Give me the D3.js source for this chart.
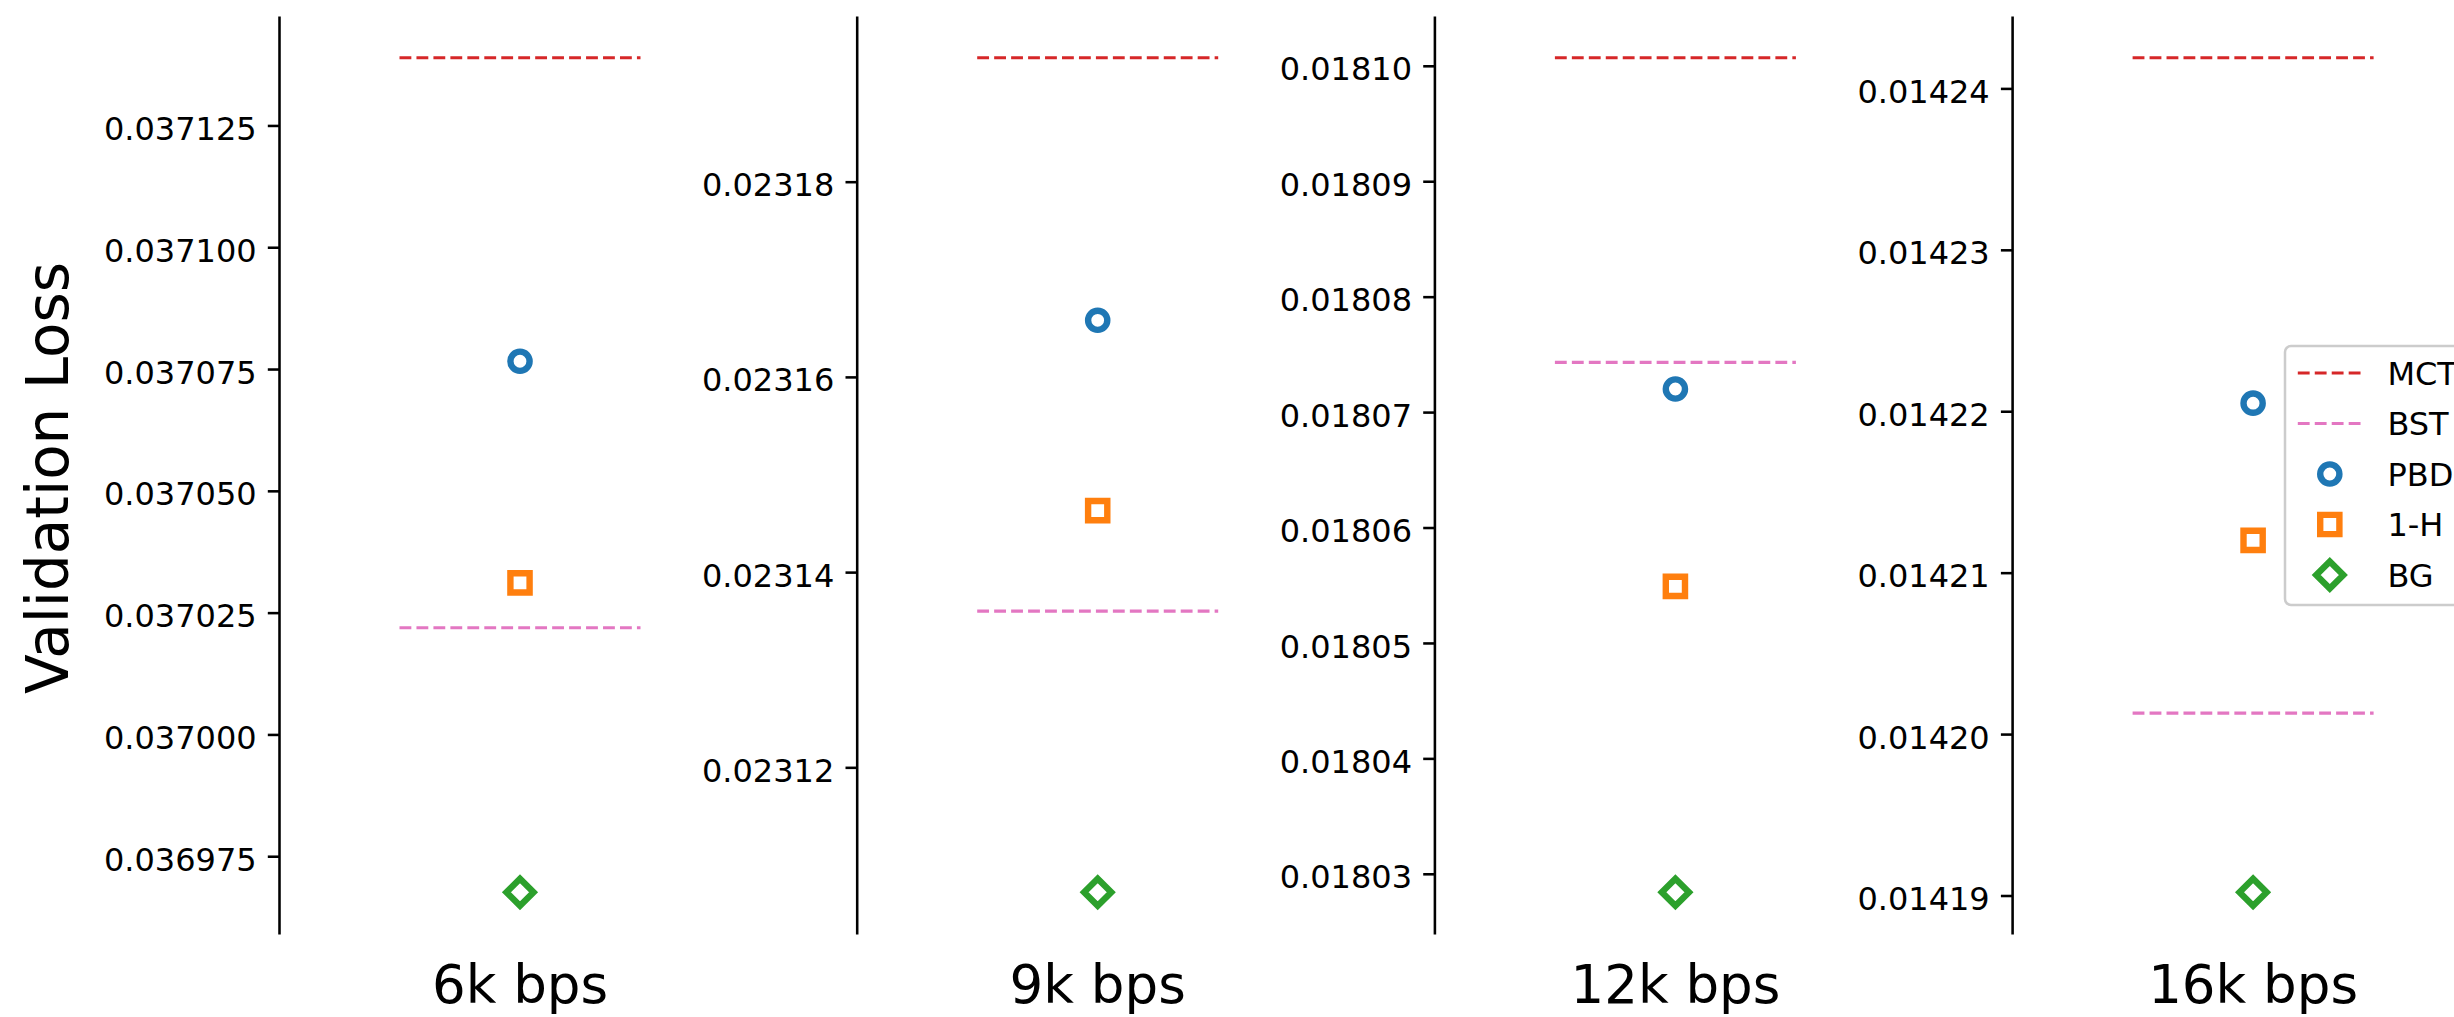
<!DOCTYPE html>
<html>
<head>
<meta charset="utf-8">
<script src="https://cdn.jsdelivr.net/npm/d3@7"></script>
<style>
  html, body { margin: 0; padding: 0; background: #fff; }
  svg { display: block; }
  text { font-family: "DejaVu Sans", sans-serif; fill: #000; }
</style>
</head>
<body>
<script>
// Bit-rate settings, one panel each
const categories = ["6k bps", "9k bps", "12k bps", "16k bps"];

// Validation loss per method and bit rate
const mctLoss    = [0.0371389, 0.0231927, 0.0181007, 0.0142419];
const bstLoss    = [0.0370219, 0.0231360, 0.0180743, 0.0142013];
const pbdLoss    = [0.0370766, 0.0231658, 0.0180720, 0.0142205];
const oneHotLoss = [0.0370311, 0.0231463, 0.0180549, 0.0142120];
const bgLoss     = [0.0369676, 0.0231072, 0.0180284, 0.0141902];

// Y tick values and label formats per panel
const ticks6k  = [0.036975, 0.037000, 0.037025, 0.037050, 0.037075, 0.037100, 0.037125];
const ticks9k  = [0.02312, 0.02314, 0.02316, 0.02318];
const ticks12k = [0.01803, 0.01804, 0.01805, 0.01806, 0.01807, 0.01808, 0.01809, 0.01810];
const ticks16k = [0.01419, 0.01420, 0.01421, 0.01422, 0.01423, 0.01424];
const tickSets = [ticks6k, ticks9k, ticks12k, ticks16k];
const tickFormats = [".6f", ".5f", ".5f", ".5f"];

const lineSeries = [
  { name: "MCT", values: mctLoss, color: "#d62728" },
  { name: "BST", values: bstLoss, color: "#e377c2" }
];
const pointSeries = [
  { name: "PBD", values: pbdLoss,    color: "#1f77b4", shape: "circle" },
  { name: "1-H", values: oneHotLoss, color: "#ff7f0e", shape: "square" },
  { name: "BG",  values: bgLoss,     color: "#2ca02c", shape: "diamond" }
];

// Layout (px)
const W = 2454, H = 1017;
const pt = 3.2;                 // pixels per point
const axTop = 16, axBottom = 934;
const axLeft0 = 279, axStep = 577.7, axWidth = 482;
const markerSize = 6 * pt, markerEdge = 2 * pt;

const svg = d3.select("body").append("svg")
  .attr("width", W).attr("height", H)
  .attr("viewBox", `0 0 ${W} ${H}`);

svg.append("rect").attr("width", W).attr("height", H).attr("fill", "#fff");

function markerPath(shape) {
  const p = d3.path();
  const s = markerSize / 2;
  if (shape === "circle") {
    p.arc(0, 0, s, 0, 2 * Math.PI);
  } else if (shape === "square") {
    p.rect(-s, -s, 2 * s, 2 * s);
  } else {
    // square rotated by 45 degrees
    const d = s * Math.SQRT2;
    p.moveTo(0, -d); p.lineTo(d, 0); p.lineTo(0, d); p.lineTo(-d, 0); p.closePath();
  }
  return p.toString();
}

categories.forEach((cat, i) => {
  const left = axLeft0 + i * axStep;
  const g = svg.append("g");

  // y domain from the data with 5% margins
  const all = [...lineSeries, ...pointSeries].map(s => s.values[i]);
  const lo = d3.min(all), hi = d3.max(all);
  const pad = (hi - lo) * 0.05;
  const y = d3.scaleLinear().domain([lo - pad, hi + pad]).range([axBottom, axTop]);
  const x = d3.scaleLinear().domain([-1, 1]).range([left, left + axWidth]);

  // reference levels as dashed horizontal segments
  lineSeries.forEach(s => {
    g.append("line")
      .attr("x1", x(-0.5)).attr("x2", x(0.5))
      .attr("y1", y(s.values[i])).attr("y2", y(s.values[i]))
      .attr("stroke", s.color)
      .attr("stroke-width", 1 * pt)
      .attr("stroke-dasharray", `${3.7 * pt} ${1.6 * pt}`);
  });

  // hollow markers for each method
  pointSeries.forEach(s => {
    g.append("path")
      .attr("d", markerPath(s.shape))
      .attr("transform", `translate(${x(0)},${y(s.values[i])})`)
      .attr("fill", "none")
      .attr("stroke", s.color)
      .attr("stroke-width", markerEdge)
      .attr("stroke-linejoin", "miter");
  });

  // left spine with ticks
  const axis = d3.axisLeft(y)
    .tickValues(tickSets[i])
    .tickFormat(d3.format(tickFormats[i]))
    .tickSize(3.5 * pt)
    .tickSizeOuter(0)
    .tickPadding(3.5 * pt);
  const ag = g.append("g").attr("transform", `translate(${left},0)`).call(axis);
  ag.select(".domain").attr("stroke", "#000").attr("stroke-width", 0.8 * pt);
  ag.selectAll(".tick line").attr("stroke", "#000").attr("stroke-width", 0.8 * pt);
  ag.selectAll(".tick text")
    .attr("font-family", "DejaVu Sans")
    .attr("font-size", 32)
    .attr("fill", "#000")
    .attr("dy", "0.44em");

  // panel label beneath the axis
  g.append("text")
    .attr("x", x(0)).attr("y", 1003)
    .attr("text-anchor", "middle")
    .attr("font-size", 53)
    .text(cat);
});

// shared y label
svg.append("text")
  .attr("transform", `translate(68,478) rotate(-90)`)
  .attr("text-anchor", "middle")
  .attr("font-size", 58)
  .text("Validation Loss");

// legend at the right of the last panel
const legX = 2285, legTop = 346, legH = 259, legW = 200;
const rowY0 = 373, rowStep = 50.5;
const leg = svg.append("g");
leg.append("rect")
  .attr("x", legX).attr("y", legTop)
  .attr("width", legW).attr("height", legH)
  .attr("rx", 6).attr("ry", 6)
  .attr("fill", "#fff").attr("fill-opacity", 0.8)
  .attr("stroke", "#cccccc").attr("stroke-width", 2.5);

const handleX0 = legX + 12.8, handleX1 = handleX0 + 64, textX = handleX1 + 25.6;
const legendItems = [...lineSeries.map(s => ({ ...s, kind: "line" })),
                     ...pointSeries.map(s => ({ ...s, kind: "marker" }))];
legendItems.forEach((s, k) => {
  const cy = rowY0 + k * rowStep;
  if (s.kind === "line") {
    leg.append("line")
      .attr("x1", handleX0).attr("x2", handleX1)
      .attr("y1", cy).attr("y2", cy)
      .attr("stroke", s.color).attr("stroke-width", 1 * pt)
      .attr("stroke-dasharray", `${3.7 * pt} ${1.6 * pt}`);
  } else {
    leg.append("path")
      .attr("d", markerPath(s.shape))
      .attr("transform", `translate(${(handleX0 + handleX1) / 2},${cy})`)
      .attr("fill", "none").attr("stroke", s.color)
      .attr("stroke-width", markerEdge);
  }
  leg.append("text")
    .attr("x", textX).attr("y", cy)
    .attr("dy", "0.36em")
    .attr("font-size", 32)
    .text(s.name);
});
</script>
</body>
</html>
